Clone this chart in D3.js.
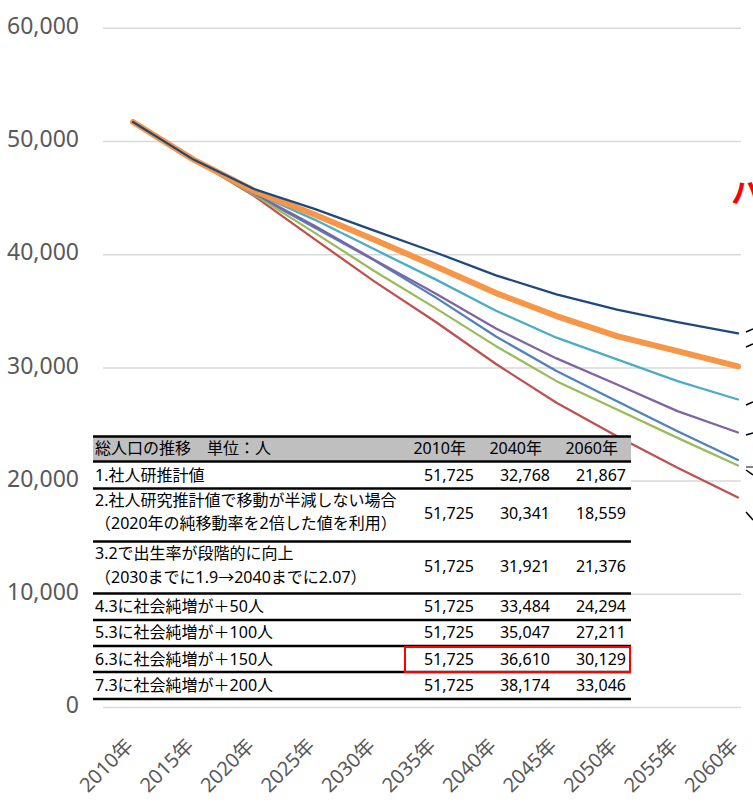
<!DOCTYPE html>
<html><head><meta charset="utf-8">
<script src="https://cdn.jsdelivr.net/npm/d3@7"></script>
<style>
html,body{margin:0;padding:0;background:#fff;}
svg{display:block;}
</style></head>
<body>
<svg id="chart" width="753" height="806"></svg>
<script>
// ---- data ----
const years = ["2010年","2015年","2020年","2025年","2030年","2035年","2040年","2045年","2050年","2055年","2060年"];
const yTicks = [0, 10000, 20000, 30000, 40000, 50000, 60000];
const seriesNames = ["1.社人研推計値","2.社人研究推計値で移動が半減しない場合","3.2で出生率が段階的に向上","4.3に社会純増が＋50人","5.3に社会純増が＋100人","6.3に社会純増が＋150人","7.3に社会純増が＋200人"];
const s1 = [51725, 48500, 45350, 42400, 39470, 36230, 32768, 29720, 27060, 24410, 21867];
const s2 = [51725, 48400, 45200, 41370, 37600, 34080, 30341, 26920, 23960, 21170, 18559];
const s3 = [51725, 48400, 45300, 41950, 38520, 35280, 31921, 28830, 26330, 23820, 21376];
const s4 = [51725, 48400, 45400, 42550, 39520, 36580, 33484, 30840, 28530, 26180, 24294];
const s5 = [51725, 48400, 45500, 43100, 40450, 37820, 35047, 32670, 30750, 28830, 27211];
const s6 = [51725, 48400, 45650, 43550, 41300, 38980, 36610, 34580, 32810, 31480, 30129];
const s7 = [51725, 48400, 45800, 44050, 42100, 40200, 38174, 36500, 35150, 34050, 33046];
const seriesColors = ["#4F81BD","#C0504D","#9BBB59","#8064A2","#4BACC6","#F79646","#1F497D"];
const seriesWidths = [2.25, 2.25, 2.25, 2.25, 2.25, 6, 2.25];
const tableHeader = ["総人口の推移　単位：人","2010年","2040年","2060年"];
const tableLabels = [
  ["1.社人研推計値"],
  ["2.社人研究推計値で移動が半減しない場合","（2020年の純移動率を2倍した値を利用）"],
  ["3.2で出生率が段階的に向上","（2030までに1.9→2040までに2.07）"],
  ["4.3に社会純増が＋50人"],
  ["5.3に社会純増が＋100人"],
  ["6.3に社会純増が＋150人"],
  ["7.3に社会純増が＋200人"]
];
const table2010 = ["51,725","51,725","51,725","51,725","51,725","51,725","51,725"];
const table2040 = ["32,768","30,341","31,921","33,484","35,047","36,610","38,174"];
const table2060 = ["21,867","18,559","21,376","24,294","27,211","30,129","33,046"];
const highlightRow = 5;
const calloutText = "ハ";

const allSeries = [s1, s2, s3, s4, s5, s6, s7];

// ---- scales ----
const svg = d3.select("#chart");
const x = d3.scalePoint().domain(years).range([102.75, 768.25]).padding(0.5);
const y = d3.scaleLinear().domain([0, 60000]).range([707.5, 28.3]);

// gridlines
svg.append("g").selectAll("line").data(yTicks).join("line")
  .attr("x1", 103).attr("x2", 741)
  .attr("y1", d => y(d)).attr("y2", d => y(d))
  .attr("stroke", "#D9D9D9").attr("stroke-width", 1.5);

// y axis labels
const yAxis = d3.axisLeft(y).tickValues(yTicks).tickSize(0).tickPadding(0)
  .tickFormat(d3.format(","));
const gy = svg.append("g").attr("transform", "translate(79,0)").call(yAxis);
gy.select(".domain").remove();
gy.selectAll("text")
  .attr("font-family", "'Noto Sans', sans-serif").attr("font-size", 23)
  .attr("fill", "#595959").attr("dy", null).attr("y", 5.2);

// x axis labels
const xAxis = d3.axisBottom(x).tickSize(0).tickPadding(0);
const gx = svg.append("g").attr("transform", "translate(0,747)").call(xAxis);
gx.select(".domain").remove();
gx.selectAll("text")
  .attr("font-family", "'Noto Sans', 'Noto Sans CJK JP', sans-serif").attr("font-size", 20)
  .attr("fill", "#595959").attr("dy", null).attr("y", 0)
  .attr("text-anchor", "end")
  .attr("transform", "translate(1,0) rotate(-45)");

// lines
const line = d3.line().x((d, i) => x(years[i])).y(d => y(d));
svg.append("g").selectAll("path").data(allSeries).join("path")
  .attr("d", d => line(d))
  .attr("fill", "none")
  .attr("stroke", (d, i) => seriesColors[i])
  .attr("stroke-width", (d, i) => seriesWidths[i])
  .attr("stroke-linejoin", "round")
  .attr("stroke-linecap", "round");

// leader lines at right edge
const leaders = [
  [746,332,753,329,"#000"],[746,347,753,344,"#000"],[746,405,753,402,"#000"],
  [746,435,753,433,"#000"],[746,467,753,467,"#595959"],[746,470,753,475,"#000"],
  [746,512,753,520,"#000"]
];
svg.append("g").selectAll("line").data(leaders).join("line")
  .attr("x1", d => d[0]).attr("y1", d => d[1]).attr("x2", d => d[2]).attr("y2", d => d[3])
  .attr("stroke", d => d[4]).attr("stroke-width", 1.5);

// callout text (cut by the edge)
svg.append("text").attr("x", 731).attr("y", 203)
  .attr("font-family", "'Noto Sans CJK JP', sans-serif").attr("font-weight", "bold")
  .attr("font-size", 30).attr("fill", "#FF0000").text(calloutText);

// ---- table ----
const tbl = svg.append("g");
const tL = 93, tR = 631;
const rowLines = [436.5, 461.5, 488.5, 541.5, 593.5, 620, 646, 672, 699];
tbl.append("rect").attr("x", tL).attr("y", rowLines[0]).attr("width", tR - tL)
  .attr("height", rowLines[rowLines.length - 1] - rowLines[0]).attr("fill", "#fff");
tbl.append("rect").attr("x", tL).attr("y", rowLines[0]).attr("width", tR - tL)
  .attr("height", rowLines[1] - rowLines[0]).attr("fill", "#BFBFBF");
tbl.selectAll("line.rl").data(rowLines).join("line").attr("class", "rl")
  .attr("x1", tL).attr("x2", tR).attr("y1", d => d).attr("y2", d => d)
  .attr("stroke", "#000").attr("stroke-width", 2.5);

const font = "'Noto Sans', 'Noto Sans CJK JP', sans-serif";
const numX = [474, 550, 626];
const headX = [466, 542, 618];
// header
tbl.append("text").attr("x", 95).attr("y", 454).attr("font-family", font).attr("font-size", 16)
  .attr("fill", "#000").text(tableHeader[0]);
tableHeader.slice(1).forEach((h, i) => {
  tbl.append("text").attr("x", headX[i]).attr("y", 454).attr("text-anchor", "end")
    .attr("font-family", font).attr("font-size", 16).attr("fill", "#000").text(h);
});
const labelBase = [[481], [506, 529], [559, 583], [612], [638], [664.5], [691]];
const numBase = [481, 519, 572, 612, 638, 664.5, 691];
tableLabels.forEach((lines, r) => {
  lines.forEach((t, k) => {
    tbl.append("text").attr("x", 95).attr("y", labelBase[r][k]).attr("font-family", font)
      .attr("font-size", 16).attr("fill", "#000").text(t);
  });
  [table2010[r], table2040[r], table2060[r]].forEach((v, c) => {
    tbl.append("text").attr("x", numX[c]).attr("y", numBase[r]).attr("text-anchor", "end")
      .attr("font-family", font).attr("font-size", 16).attr("fill", "#000").text(v);
  });
});
// highlight box
tbl.append("rect").attr("x", 405).attr("y", rowLines[highlightRow + 1] + 1)
  .attr("width", 225).attr("height", rowLines[highlightRow + 2] - rowLines[highlightRow + 1] - 1)
  .attr("fill", "none").attr("stroke", "#FF0000").attr("stroke-width", 2);
</script>
</body></html>
